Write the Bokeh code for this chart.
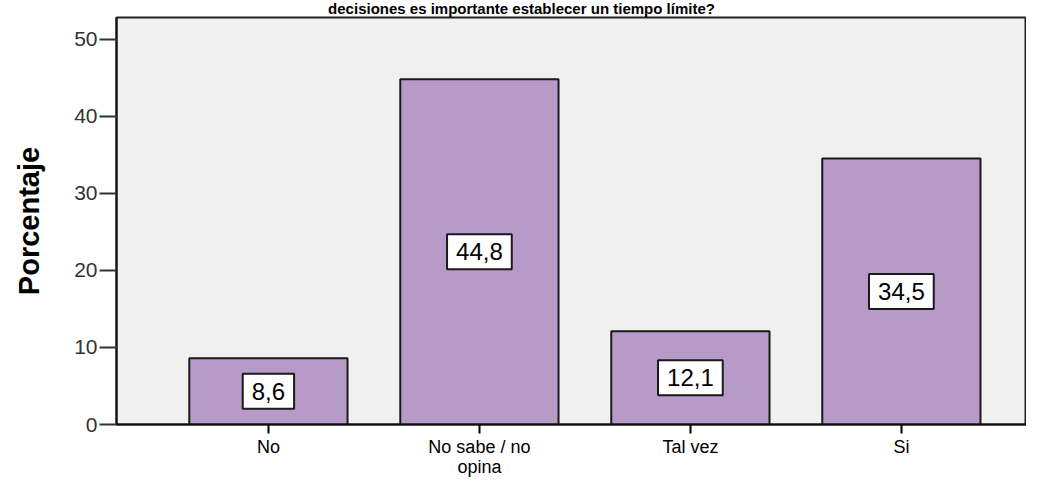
from bokeh.plotting import figure
from bokeh.models import Range1d, FixedTicker, Label
from bokeh.embed import file_html
from bokeh.resources import INLINE

# ---- data ----
categories = ["No", "No sabe / no\nopina", "Tal vez", "Si"]
values = [8.6, 44.8, 12.1, 34.5]
value_labels = ["8,6", "44,8", "12,1", "34,5"]
y_ticks = [0, 10, 20, 30, 40, 50]
title_text = "decisiones es importante establecer un tiempo límite?"
y_label = "Porcentaje"

FONT = "Liberation Sans"
xs = list(range(len(categories)))
Y_TOP = 52.8

p = figure(width=1026, height=479, output_backend="svg", toolbar_location=None,
           x_range=Range1d(-0.72, 3.593), y_range=Range1d(0, Y_TOP),
           min_border_left=116, min_border_right=0, min_border_top=16,
           min_border_bottom=50)

p.background_fill_color = "#F0F0F0"
p.border_fill_color = "white"
p.outline_line_color = "#222222"
p.outline_line_width = 2
p.xgrid.visible = False
p.ygrid.visible = False

p.vbar(x=xs, top=values, width=0.75, fill_color="#B89AC9",
       line_color="#1a1a1a", line_width=2)

for xi, v, lab in zip(xs, values, value_labels):
    p.add_layout(Label(x=xi, y=v / 2, text=lab, text_align="center",
                       text_baseline="middle", text_font=FONT,
                       text_font_size="24px", text_color="black",
                       background_fill_color="white",
                       border_line_color="#1a1a1a", border_line_width=2,
                       padding=9))

# y axis
p.yaxis.ticker = FixedTicker(ticks=y_ticks)
p.yaxis.minor_tick_line_color = None
p.yaxis.major_tick_in = 0
p.yaxis.major_tick_out = 17
p.yaxis.major_tick_line_width = 2
p.yaxis.axis_line_width = 2
p.yaxis.axis_line_color = "#111111"
p.yaxis.major_tick_line_color = "#333333"
p.yaxis.major_label_standoff = 2
p.yaxis.major_label_text_font = FONT
p.yaxis.major_label_text_font_size = "21px"
p.yaxis.major_label_text_color = "#333333"
p.yaxis.axis_label = y_label
p.yaxis.axis_label_text_font = FONT
p.yaxis.axis_label_text_font_size = "29px"
p.yaxis.axis_label_text_font_style = "bold"
p.yaxis.axis_label_text_color = "black"
p.yaxis.axis_label_standoff = 26

# x axis
p.xaxis.ticker = FixedTicker(ticks=xs)
p.xaxis.major_label_overrides = {i: c for i, c in zip(xs, categories)}
p.xaxis.minor_tick_line_color = None
p.xaxis.major_tick_in = 0
p.xaxis.major_tick_out = 9
p.xaxis.major_tick_line_width = 2
p.xaxis.axis_line_width = 2
p.xaxis.axis_line_color = "#111111"
p.xaxis.major_label_standoff = 3
p.xaxis.major_label_text_font = FONT
p.xaxis.major_label_text_font_size = "18px"
p.xaxis.major_label_text_line_height = 1.0
p.xaxis.major_label_text_color = "black"

# title strip at the very top
p.add_layout(Label(x=521, y=1, x_units="canvas", y_units="screen",
                   text=title_text, text_align="center",
                   text_baseline="bottom", text_font=FONT,
                   text_font_size="15px", text_font_style="bold",
                   text_color="black"), "above")

open("out.html", "w").write(file_html(p, INLINE))
